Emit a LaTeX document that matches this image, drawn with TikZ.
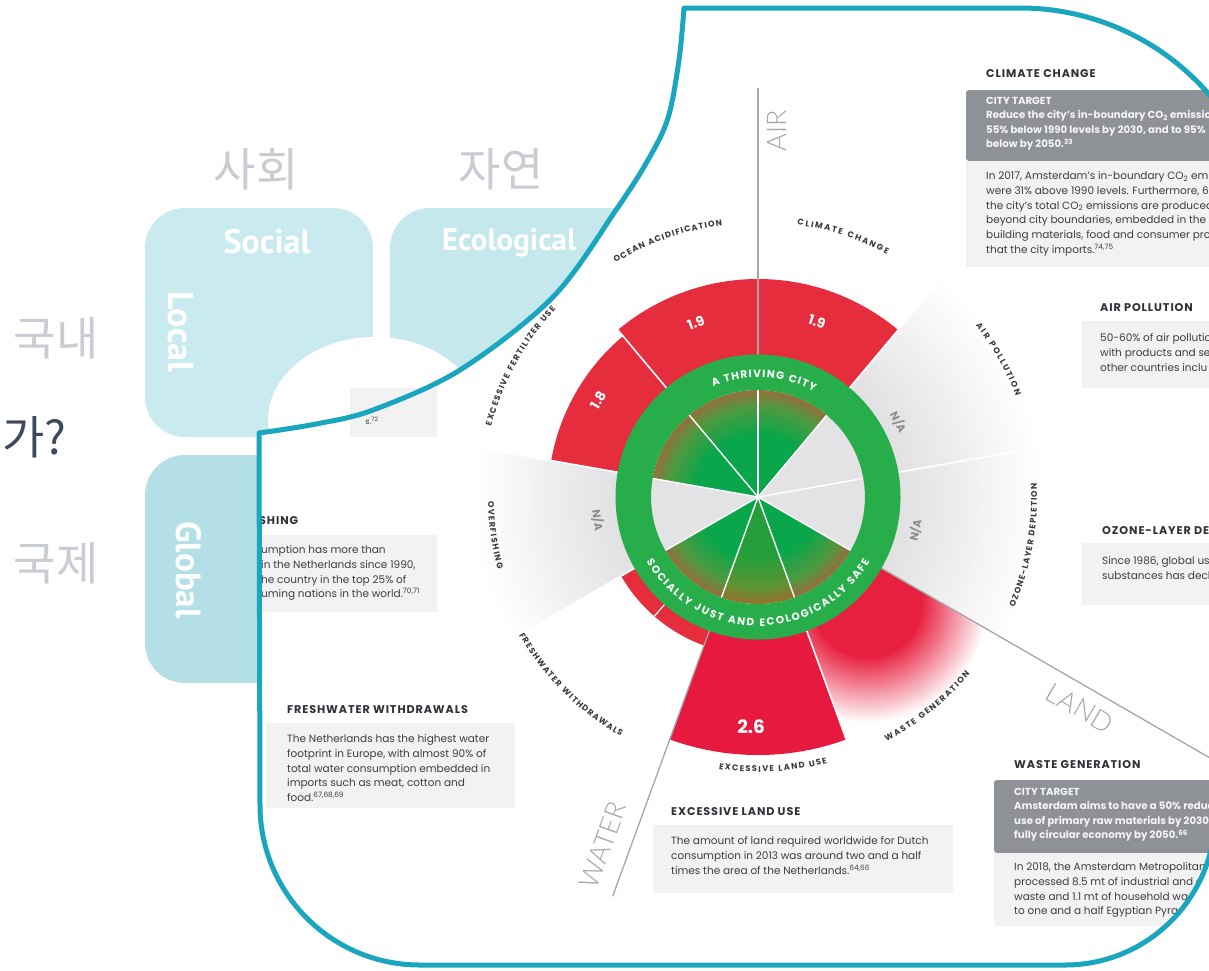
\documentclass[tikz,border=0pt]{standalone}
\usepackage{fontspec}
\setmainfont{Poppins}
\newfontfamily\krfont{Noto Sans CJK KR}
\newfontfamily\boxfont{PT Sans}
\IfFontExistsTF{Lato Light}{\newfontfamily\axisfont{Lato Light}}{\newfontfamily\axisfont{Lato}}
\newfontfamily\headfam{Poppins}[LetterSpace=8]
\usetikzlibrary{calc,decorations.text}

\definecolor{frameteal}{HTML}{1AA6BE}
\definecolor{boxlight}{HTML}{C9EBEF}
\definecolor{boxeco}{HTML}{C5E8EC}
\definecolor{boxglobal}{HTML}{B4DFE7}
\definecolor{krgray}{HTML}{C9CCD3}
\definecolor{krdark}{HTML}{3E4A5B}
\definecolor{ringgreen}{HTML}{27AE4B}
\definecolor{barred}{HTML}{E62D3D}
\definecolor{landred}{HTML}{E8193F}
\definecolor{wastered}{HTML}{E8203F}
\definecolor{nagray}{HTML}{E2E2E4}
\definecolor{segray}{HTML}{E3E3E5}
\definecolor{greenA}{HTML}{09A64B}
\definecolor{greenB}{HTML}{4E9A40}
\definecolor{greenC}{HTML}{94703B}
\definecolor{headgray}{HTML}{8E9195}
\definecolor{panelgray}{HTML}{F2F2F2}
\definecolor{txtdark}{HTML}{303137}
\definecolor{txtbody}{HTML}{3C3D43}
\definecolor{axisgray}{HTML}{A6A6A6}
\definecolor{lblcol}{HTML}{3A3A3E}
\definecolor{nacol}{HTML}{8C8C90}

\newcommand{\ringseg}[4]{($(C)+(#1:#3)$) arc[start angle=#1,end angle=#2,radius=#3] -- ($(C)+(#2:#4)$) arc[start angle=#2,end angle=#1,radius=#4] -- cycle}
\newcommand{\framepath}{plot[smooth,tension=0.55] coordinates {(259,-433) (316,-424) (373,-410) (460,-370) (553,-297) (616,-210) (648,-160) (668,-118) (679,-60) (684,-8)} -- (1020,-8) arc[start angle=90,end angle=0,radius=250] -- (1270,-600) -- (1215,-760) -- (1215,-815) arc[start angle=0,end angle=-90,radius=150] -- (420,-965) arc[start angle=-90,end angle=-180,radius=160] -- cycle}
\newcommand{\lblfont}{\fontsize{8.3}{9}\selectfont\bfseries\color{lblcol}}
\newcommand{\ringfont}{\fontsize{10.5}{11}\selectfont\bfseries\color{white}}
\newcommand{\arclabel}[4]{\path[decorate,decoration={text along path,text={|\lblfont|#4},text align={fit to path}}] ($(C)+(#1:#3)$) arc[start angle=#1,end angle=#2,radius=#3];}
\newcommand{\bodyfont}{\fontsize{10.5}{14.7}\selectfont}
\newcommand{\headfont}{\headfam\bfseries\fontsize{11.2}{12}\selectfont}
\newcommand{\targetfont}{\bfseries\fontsize{10.2}{14.4}\selectfont}

\tikzset{
  krtext/.style={inner sep=0, text=krgray, font=\krfont\fontsize{46}{50}\selectfont},
  boxlbl/.style={inner sep=0, text=white, font=\boxfont\bfseries\fontsize{34}{38}\selectfont},
  panelhead/.style={anchor=west, inner sep=0, text=txtdark, font=\headfont},
  panelbody/.style={anchor=north west, inner sep=0, align=left, text=txtbody, font=\bodyfont},
  paneltarget/.style={anchor=north west, inner sep=0, align=left, text=white!96!black, font=\targetfont},
  valtxt/.style={inner sep=0, text=white, font=\bfseries\fontsize{13.5}{14}\selectfont},
  natxt/.style={inner sep=0, text=nacol, font=\bfseries\fontsize{11}{12}\selectfont},
  axislbl/.style={inner sep=0, text=axisgray, font=\axisfont\fontsize{27}{30}\selectfont},
}

\begin{document}
\begin{tikzpicture}[x=1pt,y=1pt]
\useasboundingbox (0,0) rectangle (1209,-970);
\fill[white] (0,0) rectangle (1209,-970);

% Korean labels
\node[krtext] (k1) at (256,-169) {사회};
\node[krtext] (k2) at (501,-169) {자연};
\node[krtext] (k3) at (56,-338) {국내};
\node[krtext] (k4) at (56,-563) {국제};
\node[krtext, text=krdark, anchor=east] (k5) at (67,-437) {가?};

% light blue boxes
\fill[boxlight, rounded corners=40] (145,-208) rectangle (373,-437);
\fill[boxeco, rounded corners=40] (390,-208) rectangle (720,-437);
\fill[boxglobal, rounded corners=40] (145,-455) rectangle (330,-683);
\node[boxlbl] (social) at (267,-242) {Social};
\node[boxlbl, font=\boxfont\bfseries\fontsize{31}{36}\selectfont] (eco) at (509,-243) {Ecological};
\node[boxlbl, rotate=-90, font=\boxfont\bfseries\fontsize{36}{40}\selectfont] (local) at (181,-332) {Local};
\node[boxlbl, rotate=-90, font=\boxfont\bfseries\fontsize{35}{40}\selectfont] (global) at (189,-570) {Global};

% white arch with grey panel end
\fill[white] (375,-420) ellipse[x radius=107, y radius=83];
\fill[panelgray] (350,-388) rectangle (437,-437);

% framed infographic
\begin{scope}
\clip \framepath;
\fill[white] (0,0) rectangle (1300,-1000);
\coordinate (C) at (758,-497);
\fill[panelgray] (350,-388) rectangle (437,-437);
\node[inner sep=0, text=txtbody, font=\fontsize{8}{9}\selectfont] (s72) at (372,-421) {s.\textsuperscript{72}};

% N/A wedges fading outward
\foreach \a/\b in {10/50,-30/10,170/210}{
  \begin{scope}
    \clip \ringseg{\a}{\b}{142}{290};
    \foreach \i in {0,...,28}{
      \pgfmathsetmacro\rr{288-5*\i}
      \pgfmathsetmacro\pp{100*\i/28}
      \fill[nagray!\pp!white] (C) circle (\rr);
    }
  \end{scope}
}
% waste generation fade
\begin{scope}
  \clip \ringseg{-70}{-30}{142}{290};
  \foreach \i in {0,...,22}{
    \pgfmathsetmacro\rr{122-3*\i}
    \pgfmathsetmacro\pp{100*\i/22}
    \fill[wastered!\pp!white] ($(C)+(-44:152)$) circle (\rr);
  }
\end{scope}
% red bars
\fill[barred] \ringseg{50}{90}{142}{218};
\fill[barred] \ringseg{90}{130}{142}{218};
\fill[barred] \ringseg{130}{170}{142}{210};
\fill[landred] \ringseg{-110}{-70}{142}{258};
\fill[barred] \ringseg{-150}{-110}{142}{158};
% separators
\foreach \a in {50,10,130,170,-70,-150}
  \draw[white, line width=1.6] ($(C)+(\a:142)$) -- ($(C)+(\a:290)$);
\draw[white, line width=1.2] ($(C)+(-131:142)$) -- ($(C)+(-131:158)$);
% axis lines
\draw[axisgray, line width=1.3] ($(C)+(90:142)$) -- ($(C)+(90:409)$);
\draw[axisgray, line width=1.3] ($(C)+(-30:142)$) -- ($(C)+(-30:560)$);
\draw[axisgray, line width=1.3] ($(C)+(-110:142)$) -- ($(C)+(-110:425)$);

% inner disc with radial gradient
\foreach \i in {0,...,8}{
  \pgfmathsetmacro\rr{107-2*\i}
  \pgfmathsetmacro\pp{100*\i/8}
  \fill[greenB!\pp!greenC] (C) circle (\rr);
}
\foreach \i in {1,...,14}{
  \pgfmathsetmacro\rr{91-2*\i}
  \pgfmathsetmacro\pp{100*\i/14}
  \fill[greenA!\pp!greenB] (C) circle (\rr);
}
\fill[olive, opacity=0.22] (C) -- ($(C)+(-110:107)$) arc[start angle=-110,end angle=-70,radius=107] -- cycle;
\foreach \a/\b in {10/50,-30/10,170/210}
  \fill[segray] (C) -- ($(C)+(\a:107)$) arc[start angle=\a,end angle=\b,radius=107] -- cycle;
\foreach \a in {90,50,10,-30,-70,-110,-150,170,130}
  \draw[white, line width=1.4] (C) -- ($(C)+(\a:107)$);
% ring
\fill[ringgreen, even odd rule] (C) circle (142.5) (C) circle (107);
\path[decorate,decoration={text along path,text={|\ringfont|A THRIVING CITY},text align={fit to path}}] ($(C)+(112:119.5)$) arc[start angle=112,end angle=62,radius=119.5];
\path[decorate,decoration={text along path,text={|\ringfont|SOCIALLY JUST AND ECOLOGICALLY SAFE},text align={fit to path}}] ($(C)+(-150:129)$) arc[start angle=-150,end angle=-30,radius=129];

% values
\node[valtxt, rotate=20] (v1) at ($(C)+(109.6:185)$) {1.9};
\node[valtxt, rotate=-19] (v2) at ($(C)+(71.4:185)$) {1.9};
\node[valtxt, rotate=59] (v3) at ($(C)+(148.8:187)$) {1.8};
\node[valtxt, font=\bfseries\fontsize{18.5}{20}\selectfont] (v4) at ($(C)+(-91.7:230)$) {2.6};
\node[natxt, rotate=-62] (na1) at ($(C)+(28:159)$) {N/A};
\node[natxt, rotate=78] (na2) at ($(C)+(-11.8:161)$) {N/A};
\node[natxt, rotate=-82] (na3) at ($(C)+(188.2:162)$) {N/A};

% dimension labels
\arclabel{81.8}{62}{275}{CLIMATE CHANGE}
\arclabel{121.3}{97.5}{274}{OCEAN ACIDIFICATION}
\arclabel{38.2}{21.4}{277}{AIR POLLUTION}
\arclabel{165.2}{137.1}{276}{EXCESSIVE FERTILIZER USE}
\arclabel{-23.3}{2.8}{279}{OZONE-LAYER DEPLETION}
\arclabel{-62.2}{-39.8}{276}{WASTE GENERATION}
\arclabel{-98.2}{-75.4}{275}{EXCESSIVE LAND USE}
\arclabel{-150}{-119.8}{276}{FRESHWATER WITHDRAWALS}
\arclabel{180.9}{195.5}{270}{OVERFISHING}

% axis names
\node[axislbl, rotate=90] (air) at (777,-131) {AIR};
\node[axislbl, rotate=-30] (land) at (1080,-708) {LAND};
\node[axislbl, rotate=70] (water) at (603,-845) {WATER};

% panels
\node[panelhead] (hcc) at (986,-74) {CLIMATE CHANGE};
\fill[headgray, rounded corners=3] (966,-90) rectangle (1230,-161);
\node[paneltarget] (tcc) at (986,-97) {CITY TARGET\\Reduce the city's in-boundary CO\textsubscript{2} emissio\\55\% below 1990 levels by 2030, and to 95\%\\below by 2050.\textsuperscript{33}};
\fill[panelgray] (966,-161) rectangle (1230,-267);
\node[panelbody] (bcc) at (986,-171.5) {In 2017, Amsterdam's in-boundary CO\textsubscript{2} emi\\were 31\% above 1990 levels. Furthermore, 6\\the city's total CO\textsubscript{2} emissions are produced\\beyond city boundaries, embedded in the\\building materials, food and consumer pro\\that the city imports.\textsuperscript{74,75}};

\node[panelhead] (hap) at (1100,-308) {AIR POLLUTION};
\fill[panelgray] (1082,-321) rectangle (1230,-388);
\node[panelbody] (bap) at (1100,-333.5) {50-60\% of air pollutio\\with products and se\\other countries inclu};

\node[panelhead] (hoz) at (1102,-531) {OZONE-LAYER DE};
\fill[panelgray] (1082,-543) rectangle (1230,-605);
\node[panelbody] (boz) at (1102,-556.5) {Since 1986, global us\\substances has decli};

\node[panelhead] (hwg) at (1014,-765) {WASTE GENERATION};
\fill[headgray, rounded corners=3] (994,-780) rectangle (1230,-853);
\node[paneltarget] (twg) at (1014,-788) {CITY TARGET\\Amsterdam aims to have a 50\% reduc\\use of primary raw materials by 2030,\\fully circular economy by 2050.\textsuperscript{66}};
\fill[panelgray] (994,-853) rectangle (1230,-926);
\node[panelbody] (bwg) at (1014,-862.5) {In 2018, the Amsterdam Metropolitan\\processed 8.5 mt of industrial and c\\waste and 1.1 mt of household wa\\to one and a half Egyptian Pyra};

\node[panelhead] (hlu) at (671,-812) {EXCESSIVE LAND USE};
\fill[panelgray] (653,-825) rectangle (953,-893);
\node[panelbody] (blu) at (671,-836.5) {The amount of land required worldwide for Dutch\\consumption in 2013 was around two and a half\\times the area of the Netherlands.\textsuperscript{64,66}};

\node[panelhead] (hfw) at (287,-710) {FRESHWATER WITHDRAWALS};
\fill[panelgray] (266,-723) rectangle (515,-808);
\node[panelbody] (bfw) at (287,-734.5) {The Netherlands has the highest water\\footprint in Europe, with almost 90\% of\\total water consumption embedded in\\imports such as meat, cotton and\\food.\textsuperscript{67,68,69}};

\node[panelhead] (hof) at (259,-521) {SHING};
\fill[panelgray] (240,-535) rectangle (437,-612);
\node[panelbody] (bof) at (261,-545.5) {umption has more than\\in the Netherlands since 1990,\\he country in the top 25\% of\\uming nations in the world.\textsuperscript{70,71}};
\end{scope}

\draw[frameteal, line width=5, line join=round] \framepath;
\end{tikzpicture}
\end{document}
